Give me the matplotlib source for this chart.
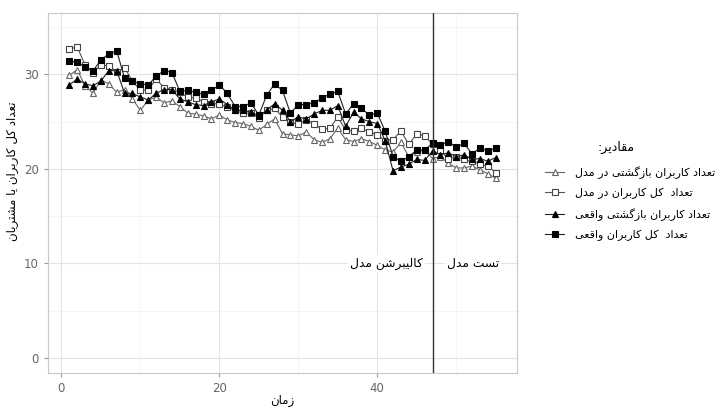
import matplotlib
matplotlib.use("Agg")
import matplotlib.pyplot as plt
from matplotlib.lines import Line2D
from matplotlib.ticker import MultipleLocator

plt.rcParams['font.family'] = ['DejaVu Sans']

# --- simple Persian shaping (matplotlib has no Arabic shaping) ---
FORMS = {
    '\u0627': ('\uFE8D', '\uFE8E', None, None),      # alef
    '\u0628': ('\uFE8F', '\uFE90', '\uFE91', '\uFE92'),  # beh
    '\u062A': ('\uFE95', '\uFE96', '\uFE97', '\uFE98'),  # teh
    '\u062F': ('\uFEA9', '\uFEAA', None, None),      # dal
    '\u0631': ('\uFEAD', '\uFEAE', None, None),      # reh
    '\u0632': ('\uFEAF', '\uFEB0', None, None),      # zain
    '\u0633': ('\uFEB1', '\uFEB2', '\uFEB3', '\uFEB4'),  # seen
    '\u0634': ('\uFEB5', '\uFEB6', '\uFEB7', '\uFEB8'),  # sheen
    '\u0639': ('\uFEC9', '\uFECA', '\uFECB', '\uFECC'),  # ain
    '\u0642': ('\uFED5', '\uFED6', '\uFED7', '\uFED8'),  # qaf
    '\u0644': ('\uFEDD', '\uFEDE', '\uFEDF', '\uFEE0'),  # lam
    '\u0645': ('\uFEE1', '\uFEE2', '\uFEE3', '\uFEE4'),  # meem
    '\u0646': ('\uFEE5', '\uFEE6', '\uFEE7', '\uFEE8'),  # noon
    '\u0648': ('\uFEED', '\uFEEE', None, None),      # waw
    '\u06A9': ('\uFB8E', '\uFB8F', '\uFB90', '\uFB91'),  # keheh
    '\u06AF': ('\uFB92', '\uFB93', '\uFB94', '\uFB95'),  # gaf
    '\u06CC': ('\uFBFC', '\uFBFD', '\uFBFE', '\uFBFF'),  # farsi yeh
}


def fa(s):
    out = []
    for i, ch in enumerate(s):
        f = FORMS.get(ch)
        if f is None:
            out.append(ch)
            continue
        prev = s[i - 1] if i > 0 else ''
        nxt = s[i + 1] if i + 1 < len(s) else ''
        jp = prev in FORMS and FORMS[prev][2] is not None
        jn = f[2] is not None and nxt in FORMS
        if jp and jn:
            out.append(f[3])
        elif jp:
            out.append(f[1])
        elif jn:
            out.append(f[2])
        else:
            out.append(f[0])
    return ''.join(reversed(out))


# --- data ---
time = list(range(1, 56))

return_model = [29.9, 30.5, 28.8, 28.0, 29.4, 29.0, 28.1, 28.4, 27.4, 26.2,
                27.3, 27.6, 27.0, 27.2, 26.6, 25.9, 25.8, 25.6, 25.3, 25.7,
                25.2, 24.9, 24.8, 24.5, 24.1, 24.7, 25.3, 23.7, 23.6, 23.5,
                23.9, 23.1, 22.8, 23.2, 24.3, 23.1, 22.9, 23.2, 22.9, 22.5,
                22.0, 21.8, 22.8, 21.3, 21.8, 22.0, 21.1, 21.3, 20.6, 20.1,
                20.1, 20.3, 19.9, 19.5, 19.0]

total_model = [32.7, 32.9, 31.0, 30.2, 31.0, 30.9, 30.3, 30.7, 29.3, 28.3,
               28.4, 29.5, 28.6, 28.4, 28.1, 27.6, 27.5, 27.1, 26.9, 26.9,
               26.5, 26.2, 25.9, 25.9, 25.4, 26.2, 26.4, 25.5, 25.0, 24.7,
               25.2, 24.8, 24.2, 24.3, 25.5, 24.1, 24.0, 24.3, 23.9, 23.6,
               23.0, 23.1, 24.0, 22.6, 23.7, 23.5, 22.6, 22.0, 21.0, 21.3,
               21.0, 20.8, 20.5, 20.3, 19.6]

return_real = [28.9, 29.5, 29.0, 28.8, 29.3, 30.4, 30.4, 28.0, 28.0, 27.6,
               27.3, 28.0, 28.4, 28.4, 27.4, 27.1, 26.8, 26.7, 27.1, 27.4,
               26.8, 26.2, 26.2, 26.0, 25.6, 26.2, 26.9, 26.2, 25.0, 25.5,
               25.3, 25.8, 26.2, 26.2, 26.7, 24.5, 26.0, 25.3, 25.0, 24.8,
               23.0, 19.8, 20.2, 20.5, 21.0, 20.9, 21.9, 21.5, 21.7, 21.3,
               21.5, 21.0, 21.1, 20.8, 21.2]

total_real = [31.4, 31.3, 30.8, 30.4, 31.5, 32.2, 32.5, 29.6, 29.3, 29.0,
              28.9, 29.8, 30.4, 30.2, 28.2, 28.3, 28.1, 27.9, 28.3, 28.9,
              28.0, 26.6, 26.6, 27.0, 25.7, 27.8, 29.0, 28.3, 25.9, 26.8,
              26.8, 27.0, 27.5, 27.9, 28.2, 25.8, 26.9, 26.4, 25.7, 25.9,
              24.0, 21.3, 20.8, 21.3, 22.0, 22.0, 22.7, 22.5, 22.9, 22.3,
              22.7, 21.6, 22.2, 21.9, 22.2]

labels = ['تعداد کاربران بازگشتی در مدل',
          'تعداد  کل کاربران در مدل',
          'تعداد کاربران بازگشتی واقعی',
          'تعداد  کل کاربران واقعی']
split_x = 47

fig = plt.figure(figsize=(7.2, 4.11), dpi=100)
ax = fig.add_axes([48 / 720, 38 / 411, 469 / 720, 360 / 411])

series = [
    (return_model, '^', 'white', '#666666', '#666666'),
    (total_model, 's', 'white', '#444444', '#555555'),
    (return_real, '^', 'black', 'black', '#222222'),
    (total_real, 's', 'black', 'black', '#222222'),
]
handles = []
for (vals, mk, fc, ec, lc), lab in zip(series, labels):
    ax.plot(time, vals, color=lc, lw=0.8, marker=mk, ms=5, mfc=fc, mec=ec,
            mew=0.8, zorder=3)
    handles.append(Line2D([], [], color=lc, lw=0.8, marker=mk, ms=4.5,
                          mfc=fc, mec=ec, mew=0.8, label=fa(lab)))

ax.axvline(split_x, color='#333333', lw=1, zorder=4)
box = dict(facecolor='white', edgecolor='none', pad=1.5)
ax.text(split_x - 1.2, 10, fa('کالیبرشن مدل'), ha='right', va='center',
        fontsize=8.8, bbox=box, zorder=5)
ax.text(split_x + 1.8, 10, fa('تست مدل'), ha='left', va='center',
        fontsize=8.8, bbox=box, zorder=5)

ax.set_xlim(-1.7, 57.7)
ax.set_ylim(-1.6, 36.5)
ax.xaxis.set_major_locator(MultipleLocator(20))
ax.xaxis.set_minor_locator(MultipleLocator(10))
ax.yaxis.set_major_locator(MultipleLocator(10))
ax.yaxis.set_minor_locator(MultipleLocator(5))
ax.grid(which='major', color='#E3E3E3', lw=0.8, zorder=0)
ax.grid(which='minor', color='#F2F2F2', lw=0.5, zorder=0)
ax.set_axisbelow(True)
for sp in ax.spines.values():
    sp.set_color('#C8C8C8')
    sp.set_linewidth(0.8)
ax.tick_params(which='major', length=3, color='#999999', labelcolor='#666666',
               labelsize=8.5)
ax.tick_params(which='minor', length=0)

ax.set_xlabel(fa('زمان'), fontsize=8.5)
ax.xaxis.set_label_coords(0.5, -0.058)
ax.set_ylabel(fa('تعداد کل کاربران یا مشتریان'), fontsize=8.5)
ax.yaxis.set_label_coords(-0.062, 0.56)

fig.text(616 / 720, 1 - 147 / 411, fa('مقادیر:'), ha='center', va='center',
         fontsize=9)
fig.legend(handles=handles, loc='upper left',
           bbox_to_anchor=(541 / 720, 1 - 162 / 411), frameon=False,
           fontsize=8, handlelength=1.7, handletextpad=1.0, labelspacing=0.78,
           borderaxespad=0)

fig.savefig('out.png', dpi=100)
